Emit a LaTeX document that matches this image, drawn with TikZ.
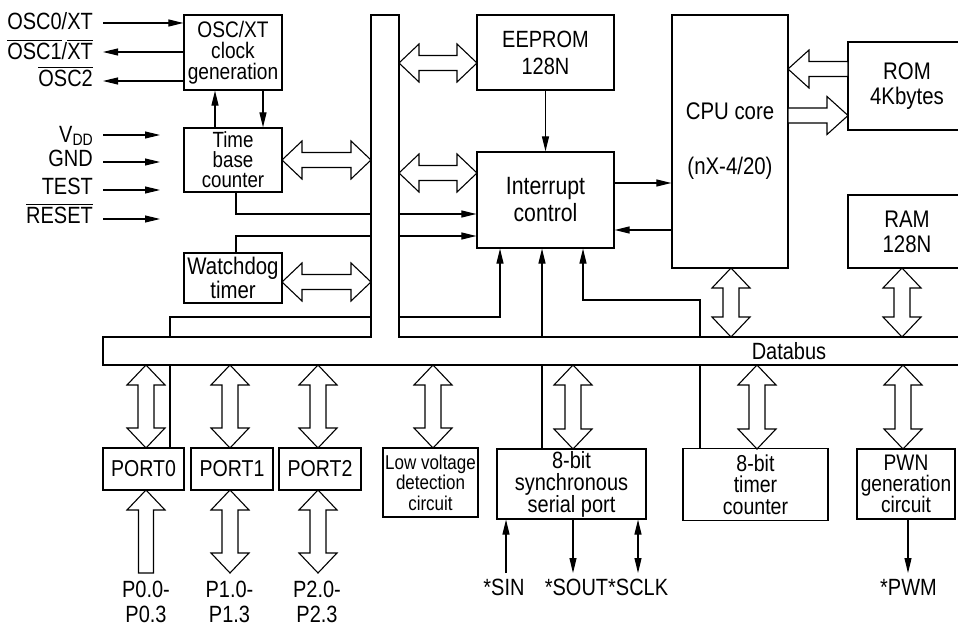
\documentclass[tikz,border=0pt]{standalone}
\usepackage{fontspec}
\setmainfont{Liberation Sans}[FakeStretch=0.85]
\usetikzlibrary{arrows.meta,calc}
\newcommand\ovl[1]{\leavevmode\setbox0\hbox{#1}\rlap{\rule[\dimexpr\ht0+2.5pt\relax]{\wd0}{1.1pt}}\box0}
\newcommand\vArrowDbl[3]{\draw[hollow] (#1,#2) -- (#1+19,#2+20) -- (#1+8,#2+20) -- (#1+8,#3-20) -- (#1+19,#3-20) -- (#1,#3) -- (#1-19,#3-20) -- (#1-8,#3-20) -- (#1-8,#2+20) -- (#1-19,#2+20) -- cycle;}
\newcommand\vArrowUp[3]{\draw[hollow] (#1,#2) -- (#1+19,#2+20) -- (#1+7.5,#2+20) -- (#1+7.5,#3) -- (#1-7.5,#3) -- (#1-7.5,#2+20) -- (#1-19,#2+20) -- cycle;}
\newcommand\hArrowDbl[3]{\draw[hollow] (#2,#1) -- (#2+20,#1-19) -- (#2+20,#1-7.5) -- (#3-20,#1-7.5) -- (#3-20,#1-19) -- (#3,#1) -- (#3-20,#1+19) -- (#3-20,#1+7.5) -- (#2+20,#1+7.5) -- (#2+20,#1+19) -- cycle;}
\newcommand\hArrowLeft[3]{\draw[hollow] (#2,#1) -- (#2+21,#1-19) -- (#2+21,#1-7.5) -- (#3,#1-7.5) -- (#3,#1+7.5) -- (#2+21,#1+7.5) -- (#2+21,#1+19) -- cycle;}
\newcommand\hArrowRight[3]{\draw[hollow] (#3,#1) -- (#3-21,#1-19) -- (#3-21,#1-7.5) -- (#2,#1-7.5) -- (#2,#1+7.5) -- (#3-21,#1+7.5) -- (#3-21,#1+19) -- cycle;}
\tikzset{
  fnt/.style 2 args={font=\fontsize{#1}{#2}\selectfont},
  box/.style={draw, line width=1.2pt, fill=white, inner sep=0pt, align=center},
  arr/.style={line width=1.1pt, -{Triangle[length=15pt,width=7pt]}},
  arrboth/.style={line width=1.1pt, {Triangle[length=15pt,width=7pt]}-{Triangle[length=15pt,width=7pt]}},
  hollow/.style={draw, line width=1.1pt, fill=white, line join=miter},
  lbl/.style={fnt={23.5}{25}, inner sep=0pt},
}
\begin{document}
\begin{tikzpicture}[x=1pt,y=-1pt]
\useasboundingbox (0,0) rectangle (958,628);
\clip (0,0) rectangle (958,628);
% boxes
\node[box, fnt={22.5}{21}, minimum width=98pt, minimum height=75pt] (osc) at (233,52.5) {OSC/XT\\clock\\generation};
\node[box, fnt={22}{20}, minimum width=98pt, minimum height=64pt] (tbc) at (233,160) {Time\\base\\counter};
\node[box, fnt={24}{21}, minimum width=98pt, minimum height=50pt] (wdt) at (233,278) {Watchdog\\timer};
\node[box, fnt={23.5}{27}, minimum width=137pt, minimum height=75pt] (eeprom) at (545.5,52.5) {EEPROM\\128N};
\node[box, fnt={25}{27}, minimum width=137pt, minimum height=96pt] (intc) at (545.5,200) {Interrupt\\control};
\node[box, fnt={24}{27}, minimum width=116pt, minimum height=253pt] (cpu) at (730,141.5) {CPU core\\[28pt](nX-4/20)};
\node[box, fnt={24}{25}, minimum width=118pt, minimum height=88pt] (rom) at (907,86) {ROM\\4Kbytes};
\node[box, fnt={24}{25}, minimum width=118pt, minimum height=73pt] (ram) at (907,231.5) {RAM\\128N};
\node[box, fnt={23}{24}, minimum width=81pt, minimum height=42pt] (port0) at (143.5,469) {PORT0};
\node[box, fnt={23}{24}, minimum width=82pt, minimum height=42pt] (port1) at (232,469) {PORT1};
\node[box, fnt={23}{24}, minimum width=82pt, minimum height=42pt] (port2) at (320,469) {PORT2};
\node[box, fnt={20}{20.5}, minimum width=95pt, minimum height=69pt] (lvd) at (430.5,482.5) {Low voltage\\detection\\circuit};
\node[box, fnt={23.5}{22}, minimum width=149pt, minimum height=70pt] (sio) at (571.5,484) {8-bit\\synchronous\\serial port};
\node[box, fnt={23}{21.5}, minimum width=145pt, minimum height=72pt] (tmr) at (755.5,484.5) {8-bit\\timer\\counter};
\node[box, fnt={22.5}{21}, minimum width=98pt, minimum height=70pt] (pwn) at (906,484) {PWN\\generation\\circuit};
% connector coordinates
\coordinate (o0) at (103,23);
\coordinate (o1) at (103,52);
\coordinate (o2) at (103,81);
\coordinate (v1s) at (103,135); \coordinate (v1e) at (160,135);
\coordinate (v2s) at (103,162); \coordinate (v2e) at (160,162);
\coordinate (v3s) at (103,190); \coordinate (v3e) at (160,190);
\coordinate (v4s) at (103,219); \coordinate (v4e) at (160,219);
\coordinate (xup) at (215,0);
\coordinate (xdn) at (263,0);
\coordinate (c1) at (236,214);
\coordinate (c2) at (236,236);
\coordinate (c3) at (170,317); \coordinate (c3b) at (500,317);
\coordinate (c4) at (542,0);
\coordinate (c5) at (700,300); \coordinate (c5b) at (583,300);
\coordinate (c6) at (0,183);
\coordinate (c7) at (0,230);
\coordinate (s1) at (506,573);
\coordinate (s2) at (573,573);
\coordinate (s3) at (638,573);
\coordinate (s4) at (908,573);
% connectors
\draw[arr] (o0) -- (o0 -| osc.west);
\draw[arr] (o1 -| osc.west) -- (o1);
\draw[arr] (o2 -| osc.west) -- (o2);
\draw[arr] (v1s) -- (v1e);
\draw[arr] (v2s) -- (v2e);
\draw[arr] (v3s) -- (v3e);
\draw[arr] (v4s) -- (v4e);
\draw[arr] (tbc.north -| xup) -- (osc.south -| xup);
\draw[arr] (osc.south -| xdn) -- (tbc.north -| xdn);
\draw[arr] (tbc.south -| c1) |- (intc.west |- c1);
\draw[arr] (wdt.north -| c2) |- (intc.west |- c2);
\draw[arr] (port0.north -| c3) -- (c3) -- (c3b) -- (intc.south -| c3b);
\draw[arr] (sio.north -| c4) -- (intc.south -| c4);
\draw[arr] (tmr.north -| c5) -- (c5) -- (c5b) -- (intc.south -| c5b);
\draw[arr] (eeprom.south) -- (intc.north);
\draw[arr] (intc.east |- c6) -- (cpu.west |- c6);
\draw[arr] (cpu.west |- c7) -- (intc.east |- c7);
\draw[arr] (s1) -- (sio.south -| s1);
\draw[arr] (sio.south -| s2) -- (s2);
\draw[arrboth] (sio.south -| s3) -- (s3);
\draw[arr] (pwn.south -| s4) -- (s4);
% bus (drawn over the lines that pass behind it)
\path[fill=white, draw, line width=1.2pt] (971,337) -- (399,337) -- (399,15) -- (371,15) -- (371,337) -- (103,337) -- (103,365) -- (971,365);
\node[fnt={23.5}{25}] (dblabel) at (789,351) {Databus};
% hollow arrows
\hArrowDbl{160}{282}{371}
\hArrowDbl{282}{282}{371}
\hArrowDbl{63}{399}{477}
\hArrowDbl{173}{399}{477}
\hArrowLeft{69}{788}{848}
\hArrowRight{115.5}{788}{848}
\vArrowDbl{731}{268}{337}
\vArrowDbl{902}{268}{337}
\vArrowDbl{146}{365}{448}
\vArrowDbl{230}{365}{448}
\vArrowDbl{318}{365}{448}
\vArrowDbl{433}{365}{448}
\vArrowDbl{573}{365}{449}
\vArrowDbl{757}{365}{449}
\vArrowDbl{903}{365}{449}
\vArrowDbl{230}{490}{573}
\vArrowDbl{318}{490}{573}
\vArrowUp{146}{490}{573}
% left labels
\node[lbl, anchor=base east] (lo0) at (93,30) {OSC0/XT};
\node[lbl, anchor=base east] (lo1) at (93,60) {\ovl{OSC1}/\ovl{XT}};
\node[lbl, anchor=base east] (lo2) at (93,87) {\ovl{OSC2}};
\node[lbl, anchor=base east] (lvdd) at (93,143) {V\raisebox{-3pt}{\fontsize{16.5}{17}\selectfont DD}};
\node[lbl, anchor=base east] (lgnd) at (93,167) {GND};
\node[lbl, anchor=base east] (ltest) at (93,195) {TEST};
\node[lbl, anchor=base east] (lrst) at (93,224) {\ovl{RESET}};
% bottom labels
\node[lbl, align=center] (lp0) at (146,602) {P0.0-\\P0.3};
\node[lbl, align=center] (lp1) at (229.5,602) {P1.0-\\P1.3};
\node[lbl, align=center] (lp2) at (317,602) {P2.0-\\P2.3};
\node[lbl, anchor=base] (lsin) at (504,595) {*SIN};
\node[lbl, anchor=base] (lsout) at (606.5,595) {*SOUT*SCLK};
\node[lbl, anchor=base] (lpwm) at (908.5,595) {*PWM};
\end{tikzpicture}
\end{document}
